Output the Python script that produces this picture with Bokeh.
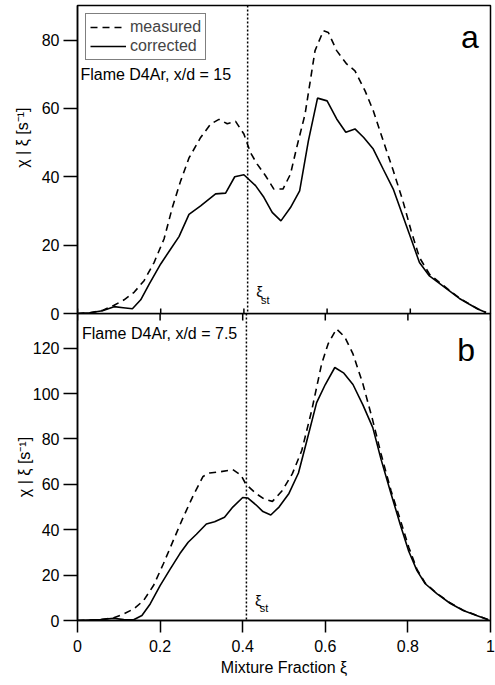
from bokeh.plotting import figure
from bokeh.layouts import column
from bokeh.models import (Range1d, LinearAxis, FixedTicker, Span, Label,
                          Legend, LegendItem, Title)
from bokeh.embed import file_html
from bokeh.resources import INLINE

FONT = "Liberation Sans"

# ---------------- data (panel a: x/d = 15) ----------------
xi_a_corr = [0, 0.03, 0.06, 0.088, 0.11, 0.132, 0.152, 0.172, 0.2, 0.222, 0.244,
             0.268, 0.296, 0.332, 0.356, 0.378, 0.40, 0.428, 0.448, 0.468, 0.489,
             0.512, 0.534, 0.555, 0.577, 0.60, 0.623, 0.645, 0.667, 0.688, 0.711,
             0.735, 0.759, 0.782, 0.802, 0.822, 0.846, 0.87, 0.894, 0.918, 0.942,
             0.962, 0.982]
chi_a_corr = [0, 0.2, 0.8, 2.0, 1.7, 1.4, 4.0, 8.5, 14.5, 18.5, 22.5,
              29.0, 31.5, 35.0, 35.2, 40.0, 40.6, 37.4, 34.0, 29.6, 27.1,
              31.0, 35.9, 50.5, 63.0, 62.2, 56.9, 53.0, 54.0, 51.5, 48.1,
              42.2, 36.4, 28.6, 21.8, 14.9, 11.0, 8.8, 6.6, 4.4, 2.7,
              1.3, 0.3]
xi_a_meas = [0, 0.03, 0.06, 0.088, 0.112, 0.136, 0.16, 0.184, 0.208, 0.228, 0.248,
             0.268, 0.296, 0.32, 0.34, 0.36, 0.38, 0.40, 0.416, 0.432, 0.452,
             0.472, 0.494, 0.512, 0.527, 0.547, 0.571, 0.591, 0.603, 0.623, 0.647,
             0.667, 0.691, 0.711, 0.735, 0.759, 0.782, 0.802, 0.822, 0.846, 0.87,
             0.894, 0.918, 0.942, 0.962, 0.982]
chi_a_meas = [0, 0.2, 0.9, 2.4, 4.0, 6.2, 9.6, 14.9, 21.8, 31.0, 38.8,
              45.5, 51.5, 55.4, 56.8, 55.5, 56.2, 52.5, 47.0, 43.7, 40.3,
              36.4, 36.4, 40.8, 48.6, 58.3, 76.9, 82.7, 82.2, 76.9, 73.0,
              71.0, 65.2, 59.3, 50.5, 41.8, 33.0, 24.2, 16.4, 11.5, 9.1,
              6.8, 4.5, 2.8, 1.4, 0.3]

# ---------------- data (panel b: x/d = 7.5) ----------------
xi_b_corr = [0, 0.056, 0.088, 0.112, 0.136, 0.156, 0.176, 0.2, 0.224, 0.248, 0.268,
             0.288, 0.312, 0.332, 0.356, 0.376, 0.40, 0.412, 0.432, 0.449, 0.468,
             0.488, 0.512, 0.535, 0.555, 0.579, 0.60, 0.623, 0.645, 0.667, 0.691,
             0.715, 0.735, 0.759, 0.782, 0.802, 0.822, 0.842, 0.87, 0.902, 0.934,
             0.966, 0.995]
chi_b_corr = [0, 0.4, 1.0, 0.4, 0.3, 2.2, 7.3, 15.4, 22.5, 29.5, 34.5,
              38.0, 42.5, 43.5, 45.5, 50.0, 54.2, 54.0, 51.0, 48.0, 46.5,
              50.0, 56.0, 65.0, 79.0, 96.0, 104.0, 111.5, 109.0, 104.0, 95.0,
              85.0, 71.0, 56.0, 42.0, 30.5, 22.0, 16.2, 11.8, 7.6, 4.4,
              2.2, 0.3]
xi_b_meas = [0, 0.056, 0.088, 0.112, 0.136, 0.16, 0.184, 0.208, 0.232, 0.256, 0.28,
             0.304, 0.32, 0.344, 0.376, 0.396, 0.408, 0.432, 0.452, 0.472, 0.496,
             0.52, 0.543, 0.567, 0.591, 0.607, 0.627, 0.647, 0.667, 0.691, 0.715,
             0.735, 0.759, 0.782, 0.802, 0.822, 0.842, 0.87, 0.902, 0.934, 0.966,
             0.995]
chi_b_meas = [0, 0.4, 1.2, 2.9, 5.1, 8.8, 15.4, 25.0, 35.3, 45.5, 55.0,
              63.5, 65.0, 65.5, 66.5, 64.0, 60.0, 56.0, 53.5, 52.5, 57.3,
              64.6, 74.9, 92.5, 113.0, 122.0, 128.5, 125.0, 117.5, 104.3, 88.1,
              73.4, 57.3, 44.1, 32.3, 22.5, 16.5, 12.0, 7.8, 4.5, 2.3,
              0.3]

xi_st = 0.409

x_ticks = [0, 0.2, 0.4, 0.6, 0.8, 1.0]
x_tick_labels = ["0", "0.2", "0.4", "0.6", "0.8", "1"]
ya_ticks = [0, 20, 40, 60, 80]
yb_ticks = [0, 20, 40, 60, 80, 100, 120]

YA_MAX = 90.1
YB_MAX = 135.3
YTITLE = "\u03c7 | \u03be [s\u207b\u00b9]"

# ---------------- layout ----------------
W = 495
OVERLAP = 12                 # panel a canvas reaches under panel b's top
H_A, H_B = 313 + OVERLAP, 372
LEFT = 77
RIGHT_A, RIGHT_B = 5, 2
XA_END = (W - LEFT - RIGHT_A) / (W - LEFT - RIGHT_B)   # same x scale in both panels

LW = 1.6


def style_axis(ax):
    ax.axis_line_color = "black"
    ax.axis_line_width = 1.5
    ax.major_tick_line_color = "black"
    ax.major_tick_line_width = 1.5
    ax.minor_tick_line_color = None
    ax.major_label_text_font = FONT
    ax.major_label_text_font_size = "16px"
    ax.major_label_text_color = "black"
    ax.axis_label_text_font = FONT
    ax.axis_label_text_font_size = "16px"
    ax.axis_label_text_font_style = "normal"
    ax.axis_label_text_color = "black"


def make_fig(h, x_end, y_max, right, top, bottom):
    f = figure(width=W, height=h, output_backend="svg", toolbar_location=None,
               x_range=Range1d(0, x_end), y_range=Range1d(0, y_max),
               x_axis_location=None, y_axis_location=None,
               min_border_left=LEFT, min_border_right=right,
               min_border_top=top, min_border_bottom=bottom)
    f.grid.visible = False
    f.outline_line_color = "black"
    f.outline_line_width = 1.5
    return f


def add_label(f, x, y, text, size, **kw):
    f.add_layout(Label(x=x, y=y, text=text, text_font=FONT, text_font_size=size,
                       text_color="black", **kw))


def add_yaxis(f, ticks, title=None, standoff=0):
    ax = LinearAxis(ticker=FixedTicker(ticks=ticks))
    if title:
        ax.axis_label = title
    style_axis(ax)
    ax.major_tick_in = 0
    ax.major_tick_out = 14
    ax.major_label_standoff = 4
    ax.axis_label_standoff = standoff
    f.add_layout(ax, "left")


def add_xst(f, y1, y2):
    add_label(f, 0.4296, y1, "\u03be", "15px", text_align="left", text_baseline="middle")
    add_label(f, 0.441, y2, "st", "11px", text_align="left", text_baseline="middle")


# ---------------- panel a ----------------
pa = make_fig(H_A, XA_END, YA_MAX, RIGHT_A, 5, OVERLAP)
pa.background_fill_color = "white"
pa.border_fill_color = "white"
add_yaxis(pa, ya_ticks)
pa.add_layout(Title(text=YTITLE, align="right", offset=102, vertical_align="bottom",
                    standoff=16, text_font=FONT, text_font_size="16px",
                    text_font_style="normal", text_color="black"), "left")

r_a_meas = pa.line(xi_a_meas, chi_a_meas, line_color="black", line_width=LW,
                   line_dash="7 5")
r_a_corr = pa.line(xi_a_corr, chi_a_corr, line_color="black", line_width=LW)
pa.add_layout(Span(location=xi_st, dimension="height", line_color="black",
                   line_width=1.5, line_dash="2 2"))
# x tick marks of panel a on the shared separator (upper half drawn here)
pa.scatter(x=x_ticks, y=[0] * len(x_ticks), marker="dash", angle=1.5708, size=10,
           line_color="black", line_width=1.5)
add_label(pa, 0.007, 69.9, "Flame D4Ar, x/d = 15", "16px",
          text_align="left", text_baseline="middle")
add_label(pa, 0.943, 81.0, "a", "32px", text_align="center", text_baseline="middle")
add_xst(pa, 6.4, 3.9)

legend = Legend(items=[LegendItem(label="measured", renderers=[r_a_meas]),
                       LegendItem(label="corrected", renderers=[r_a_corr])],
                location="top_left", border_line_color="black", border_line_width=1.2,
                label_text_font=FONT, label_text_font_size="16px",
                glyph_width=36, glyph_height=16, label_height=16,
                label_standoff=4, spacing=1, padding=4, margin=8,
                background_fill_color="white", background_fill_alpha=1)
pa.add_layout(legend)

# ---------------- panel b ----------------
pb = make_fig(H_B, 1.0, YB_MAX, RIGHT_B, 0, 65)
pb.background_fill_color = None
pb.border_fill_color = None
pb.margin = (-OVERLAP, 0, 0, 0)
add_yaxis(pb, yb_ticks, YTITLE, -3)

ax = LinearAxis(ticker=FixedTicker(ticks=x_ticks),
                major_label_overrides={t: l for t, l in zip(x_ticks, x_tick_labels)},
                axis_label="Mixture Fraction \u03be")
style_axis(ax)
ax.major_tick_in = 0
ax.major_tick_out = 12
ax.major_label_standoff = 7
ax.axis_label_standoff = 4
pb.add_layout(ax, "below")

pb.line(xi_b_meas, chi_b_meas, line_color="black", line_width=LW, line_dash="7 5")
pb.line(xi_b_corr, chi_b_corr, line_color="black", line_width=LW)
pb.add_layout(Span(location=xi_st, dimension="height", line_color="black",
                   line_width=1.5, line_dash="2 2"))
# lower half of panel a's x tick marks
pb.scatter(x=x_ticks, y=[YB_MAX] * len(x_ticks), marker="dash", angle=1.5708, size=14,
           line_color="black", line_width=1.5)
add_label(pb, 0.011, 126.4, "Flame D4Ar, x/d = 7.5", "16px",
          text_align="left", text_baseline="middle")
add_label(pb, 0.941, 119.0, "b", "32px", text_align="center", text_baseline="middle")
add_xst(pb, 8.8, 5.4)

layout = column(pa, pb, spacing=0)
open("out.html", "w").write(file_html(layout, INLINE))
